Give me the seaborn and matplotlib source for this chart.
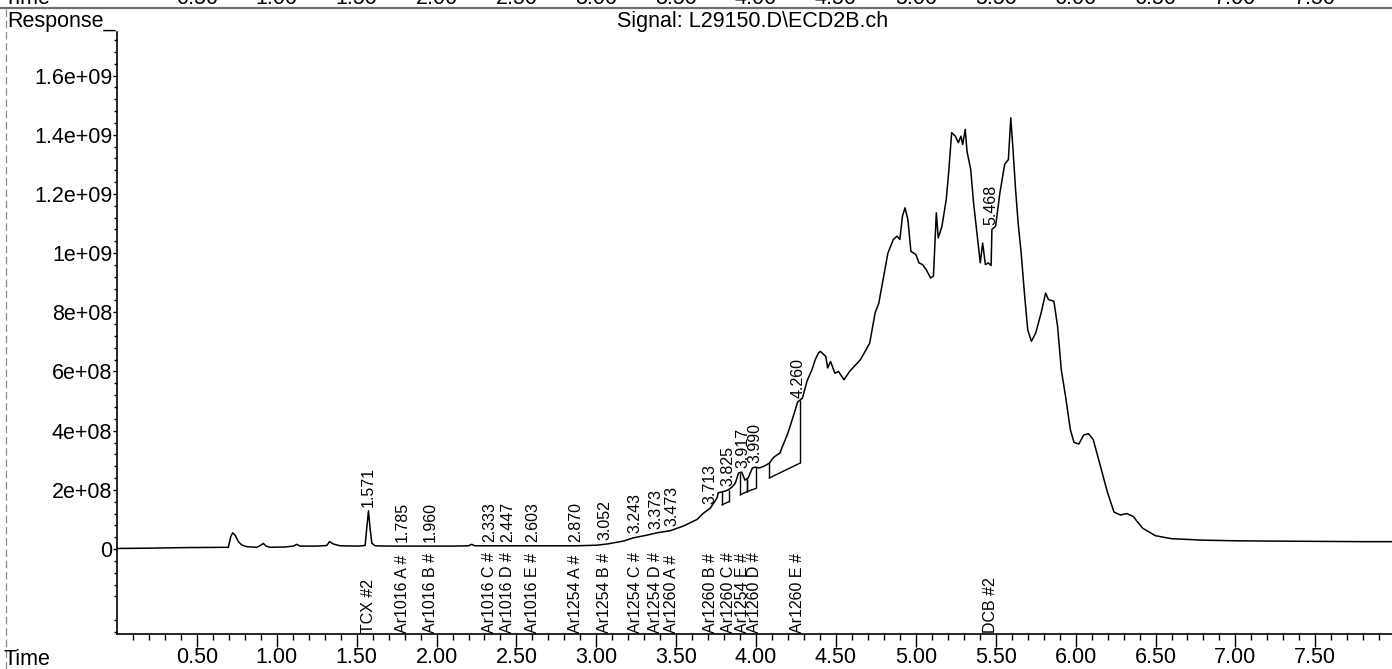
import numpy as np
import pandas as pd
import matplotlib
matplotlib.use("Agg")
import matplotlib.pyplot as plt
import matplotlib.transforms as mtransforms
from matplotlib.ticker import FixedLocator, FuncFormatter
import seaborn as sns

# ---- chromatogram trace: retention time (min) and detector response (x1e6 counts)
time_min = [
    0.00, 0.20, 0.44, 0.60, 0.697, 0.712, 0.724, 0.739, 0.76, 0.78, 0.812, 0.875,
    0.90, 0.916, 0.933, 0.958, 1.05, 1.104, 1.125, 1.146, 1.25, 1.313, 1.33, 1.355,
    1.396, 1.51, 1.553, 1.563, 1.574, 1.584, 1.595, 1.615, 1.70, 1.90, 2.10, 2.20,
    2.22, 2.24, 2.40, 2.60, 2.87, 3.00, 3.066, 3.17, 3.233, 3.317, 3.38, 3.463,
    3.546, 3.63, 3.67, 3.713, 3.755, 3.763, 3.786, 3.806, 3.826, 3.85, 3.87, 3.89,
    3.91, 3.93, 3.95, 3.977, 3.995, 4.02, 4.05, 4.083, 4.11, 4.15, 4.16, 4.195,
    4.21, 4.245, 4.26, 4.29, 4.32, 4.35, 4.37, 4.39, 4.402, 4.436, 4.448, 4.466,
    4.493, 4.516, 4.55, 4.585, 4.653, 4.688, 4.711, 4.745, 4.768, 4.802, 4.825,
    4.859, 4.882, 4.90, 4.916, 4.932, 4.95, 4.969, 5.00, 5.019, 5.042, 5.065,
    5.092, 5.11, 5.128, 5.14, 5.163, 5.19, 5.206, 5.224, 5.247, 5.266, 5.282,
    5.293, 5.309, 5.32, 5.343, 5.361, 5.384, 5.403, 5.418, 5.435, 5.453, 5.471,
    5.476, 5.499, 5.526, 5.556, 5.579, 5.594, 5.608, 5.624, 5.64, 5.659, 5.681,
    5.70, 5.723, 5.75, 5.784, 5.812, 5.83, 5.864, 5.887, 5.91, 5.937, 5.967,
    5.99, 6.02, 6.05, 6.08, 6.11, 6.15, 6.20, 6.24, 6.28, 6.32, 6.36, 6.42,
    6.50, 6.60, 6.80, 7.00, 7.20, 7.50, 7.80, 7.98,
]
response_e6 = [
    2, 3, 5, 5.5, 6, 42, 55, 47, 25, 14, 8, 6,
    13, 19, 10, 6, 7, 10, 16, 10, 10, 12, 25, 17,
    11, 10, 12, 70, 129, 70, 20, 11, 10, 10, 10, 11,
    16, 11, 11, 11, 11, 13, 17, 27, 38, 47, 55, 62,
    78, 100, 121, 138, 172, 190, 193, 196, 200, 210, 223, 257,
    260, 233, 240, 274, 277, 274, 280, 290, 310, 325, 340, 386,
    410, 470, 497, 510, 570, 606, 640, 662, 668, 651, 612, 634,
    594, 600, 572, 600, 640, 673, 696, 798, 831, 933, 1000,
    1046, 1057, 1046, 1125, 1153, 1113, 1006, 995, 967, 961, 944,
    916, 922, 1136, 1051, 1090, 1181, 1277, 1407, 1395, 1373, 1395,
    1367, 1418, 1344, 1283, 1170, 1057, 967, 1034, 961, 967, 958,
    1080, 1091, 1204, 1300, 1316, 1457, 1350, 1215, 1102, 1000, 854,
    741, 702, 730, 798, 865, 843, 837, 752, 606, 515, 403,
    360, 355, 385, 390, 370, 290, 190, 125, 115, 120, 110, 70,
    45, 35, 30, 28, 27, 26, 25, 25,
]

# ---- integrated peaks: retention times and compound names
peak_rt = [1.571, 1.785, 1.960, 2.333, 2.447, 2.603, 2.870, 3.052, 3.243,
           3.373, 3.473, 3.713, 3.825, 3.917, 3.990, 4.260, 5.468]
peak_names = ["TCX #2", "Ar1016 A #", "Ar1016 B #", "Ar1016 C #", "Ar1016 D #",
              "Ar1016 E #", "Ar1254 A #", "Ar1254 B #", "Ar1254 C #", "Ar1254 D #",
              "Ar1260 A #", "Ar1260 B #", "Ar1260 C #", "Ar1254 E #", "Ar1260 D #",
              "Ar1260 E #", "DCB #2"]

# ---- integration baselines (start/end time, response x1e6)
base_start_t = [3.786, 3.901, 3.942, 4.083]
base_start_v = [149, 183, 194, 240]
base_end_t = [3.828, 3.942, 4.000, 4.277]
base_end_v = [160, 194, 205, 291]

# ---- axis texts
signal_title = "Signal: L29150.D\\ECD2B.ch"
y_title = "Response_"
x_title = "Time"
x_major = [0.5, 1.0, 1.5, 2.0, 2.5, 3.0, 3.5, 4.0, 4.5, 5.0, 5.5, 6.0, 6.5, 7.0, 7.5]
y_major = [0, 2e8, 4e8, 6e8, 8e8, 1.0e9, 1.2e9, 1.4e9, 1.6e9]

SCALE = 1e6
t = np.array(time_min)
v = np.array(response_e6) * SCALE

sns.set_theme(style="ticks", rc={"axes.edgecolor": "black", "xtick.color": "black",
                                 "ytick.color": "black", "text.color": "black",
                                 "axes.labelcolor": "black"})
plt.rcParams["font.family"] = ["Liberation Sans", "DejaVu Sans"]

W, H = 1392, 669
fig = plt.figure(figsize=(W / 100, H / 100), dpi=100)
ax = fig.add_axes([117 / W, 35 / H, 1 - 117 / W, 602 / H])
ax.set_facecolor("white")

trace = pd.DataFrame({"time": t, "response": v})
sns.lineplot(data=trace, x="time", y="response", ax=ax, color="black",
             linewidth=1.1, sort=False, estimator=None)

# integration baselines with drop lines to the trace
for ts, vs, te, ve in zip(base_start_t, base_start_v, base_end_t, base_end_v):
    vs, ve = vs * SCALE, ve * SCALE
    ax.plot([ts, te], [vs, ve], color="black", linewidth=1.0)
    ax.vlines([ts, te], [vs, ve], np.interp([ts, te], t, v), color="black", linewidth=1.0)

ax.set_xlim(0, 7.98)
ax.set_ylim(-2.87e8, 1.747e9)
ax.set_xlabel("")
ax.set_ylabel("")
sns.despine(ax=ax)
for side in ("left", "bottom"):
    ax.spines[side].set_linewidth(1.2)

ax.xaxis.set_major_locator(FixedLocator(x_major))
ax.xaxis.set_minor_locator(FixedLocator([k / 10 for k in range(1, 80) if k % 5]))
ax.xaxis.set_major_formatter(FuncFormatter(lambda x, _: f"{x:.2f}"))
ax.yaxis.set_major_locator(FixedLocator(y_major))
ax.yaxis.set_minor_locator(FixedLocator([k * 4e7 for k in range(-7, 44) if k % 5]))
ax.yaxis.set_major_formatter(FuncFormatter(lambda y, _: f"{y:g}"))
ax.tick_params(axis="x", which="major", length=9, width=1.0, pad=0.5, labelsize=15.5)
ax.tick_params(axis="x", which="minor", length=4.5, width=1.0)
ax.tick_params(axis="y", which="major", length=3, width=1.0, pad=0.5, labelsize=15.5)
ax.tick_params(axis="y", which="minor", length=2, width=1.0)

# retention-time labels above each peak, compound labels on the time axis
for rt, name in zip(peak_rt, peak_names):
    near = v[np.abs(t - rt) <= 0.012]
    top = max([np.interp(rt, t, v)] + list(near))
    ax.annotate(f"{rt:.3f}", xy=(rt, top), xytext=(0, 3), textcoords="offset points",
                rotation=90, ha="center", va="bottom", fontsize=11.5)
    ax.annotate(name, xy=(rt, 0), xycoords=("data", "axes fraction"), xytext=(0, 1),
                textcoords="offset points", rotation=90, ha="center", va="bottom",
                fontsize=11.5)

# header and frame
fig.text(7 / W, 1 - 27.5 / H, y_title, ha="left", va="baseline", fontsize=15.5)
fig.text(753 / W, 1 - 27.5 / H, signal_title, ha="center", va="baseline", fontsize=15.5)
fig.text(4 / W, 4 / H, x_title, ha="left", va="baseline", fontsize=15.5)
fig.add_artist(plt.Line2D([0, 1], [1 - 8 / H, 1 - 8 / H], transform=fig.transFigure,
                          color="#6e6e6e", linewidth=1.6))
fig.add_artist(plt.Line2D([6 / W, 6 / W], [0, 1 - 8 / H], transform=fig.transFigure,
                          color="#8a8a8a", linewidth=0.9, linestyle=(0, (6, 3))))

# time scale of the preceding panel, cut off at the top edge
top_row = mtransforms.blended_transform_factory(ax.transData, fig.transFigure)
fig.text(4 / W, 1 - 4 / H, x_title, ha="left", va="baseline", fontsize=15.5)
for xm in x_major:
    fig.text(xm, 1 - 4 / H, f"{xm:.2f}", transform=top_row, ha="center",
             va="baseline", fontsize=15.5)

fig.savefig("out.png", dpi=100, facecolor="white")
